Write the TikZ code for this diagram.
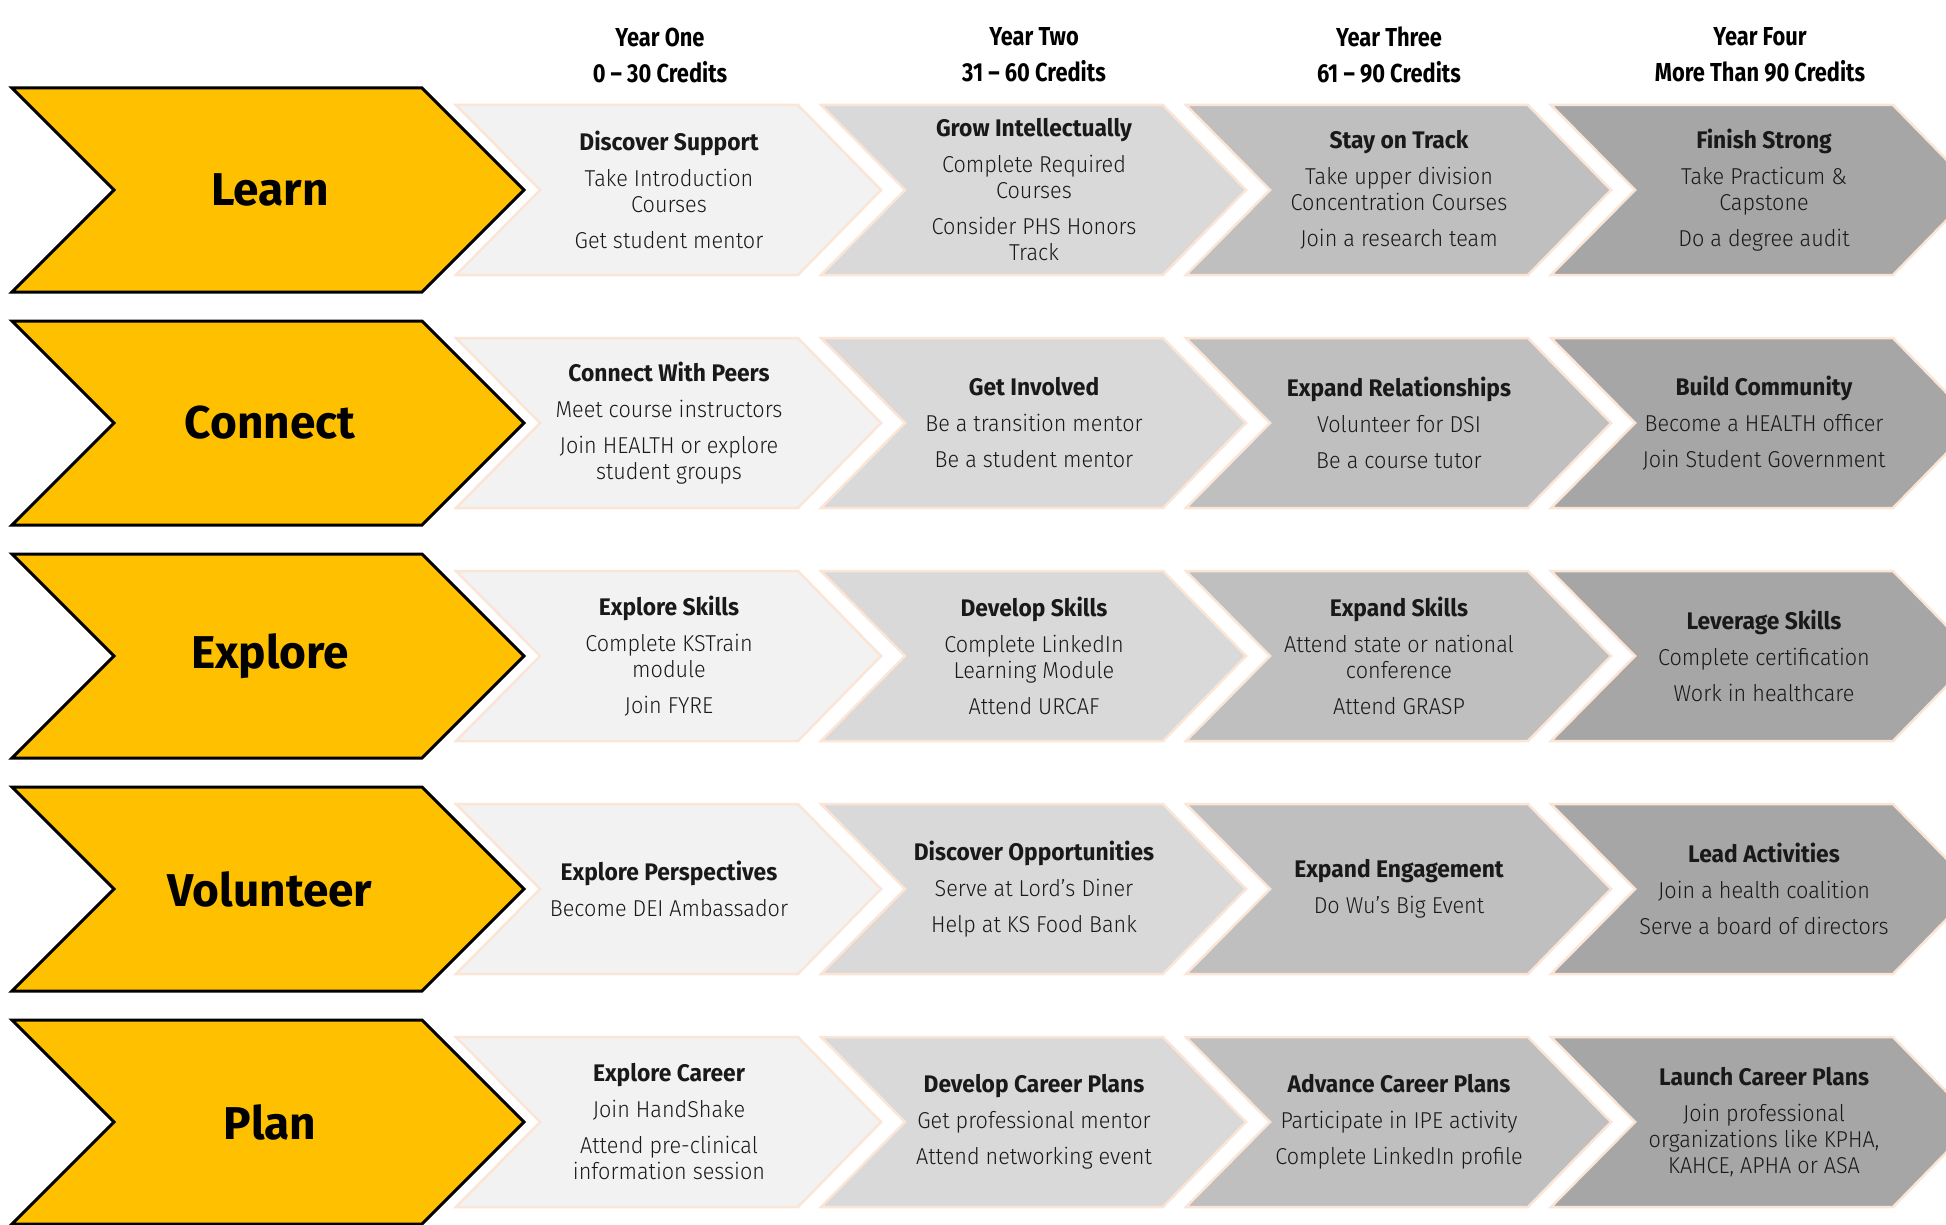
\documentclass[tikz,border=0pt]{standalone}
\usepackage{fontspec}
\setmainfont{Fira Sans}[FakeStretch=0.84]
\newfontfamily\thinfont{Fira Sans Light}[FakeStretch=0.94]
\newfontfamily\titlefont{Fira Sans}[FakeStretch=0.95]
\newfontfamily\labelfont{Fira Sans}
\usetikzlibrary{positioning}

\definecolor{gold}{HTML}{FFC000}
\definecolor{peach}{HTML}{FBE5D6}
\definecolor{shadeA}{HTML}{F2F2F2}
\definecolor{shadeB}{HTML}{D9D9D9}
\definecolor{shadeC}{HTML}{BFBFBF}
\definecolor{shadeD}{HTML}{A6A6A6}

\def\gap{10pt}
\newcommand{\ttl}[1]{{\titlefont\bfseries\fontsize{24}{26}\selectfont #1}\\[\gap]}

\tikzset{
  phase/.style={fill=gold, draw=black, line width=3pt, line join=miter},
  stage/.style={draw=peach, line width=2.5pt, line join=miter},
  phaselabel/.style={font=\labelfont\bfseries\fontsize{46}{50}\selectfont},
  stagetext/.style={align=center, text=black!90, font=\thinfont\fontsize{23}{26}\selectfont},
  yearlabel/.style={align=center, font=\fontsize{26}{36}\selectfont\bfseries}
}

\begin{document}
\begin{tikzpicture}[x=1pt,y=-1pt]
  \def\pitch{365}
  \def\rowgap{233}
  \useasboundingbox (0,0) rectangle (1946,1225);
  \clip (0,0) rectangle (1946,1225);

  % years
  \foreach \c/\x/\yr in {0/660/{Year One\\0 -- 30 Credits},
                          1/1034/{Year Two\\31 -- 60 Credits},
                          2/1389/{Year Three\\61 -- 90 Credits},
                          3/1760/{Year Four\\More Than 90 Credits}}
    \node[yearlabel] (year\c) at (\x,55) {\yr};

  % phases and stages
  \foreach \r/\name in {0/Learn,1/Connect,2/Explore,3/Volunteer,4/Plan} {
    \pgfmathsetmacro\yc{190+\r*\rowgap}
    \draw[phase] (12,\yc-102) -- (422,\yc-102) -- (524,\yc) -- (422,\yc+102)
      -- (12,\yc+102) -- (114,\yc) -- cycle;
    \node[phaselabel] (\name) at (270,\yc) {\name};
    \foreach \c/\shade in {0/shadeA,1/shadeB,2/shadeC,3/shadeD} {
      \pgfmathsetmacro\xl{456+\c*\pitch}
      \draw[stage, fill=\shade] (\xl,\yc-85) -- (\xl+342,\yc-85) -- (\xl+425,\yc)
        -- (\xl+342,\yc+85) -- (\xl,\yc+85) -- (\xl+84,\yc) -- cycle;
    }
  }

  % stage texts
  \foreach \r/\c/\txt in {
    0/0/{\ttl{Discover Support}Take Introduction\\Courses\\[\gap]Get student mentor},
    0/1/{\ttl{Grow Intellectually}Complete Required\\Courses\\[\gap]Consider PHS Honors\\Track},
    0/2/{\ttl{Stay on Track}Take upper division\\Concentration Courses\\[\gap]Join a research team},
    0/3/{\ttl{Finish Strong}Take Practicum \&\\Capstone\\[\gap]Do a degree audit},
    1/0/{\ttl{Connect With Peers}Meet course instructors\\[\gap]Join HEALTH or explore\\student groups},
    1/1/{\ttl{Get Involved}Be a transition mentor\\[\gap]Be a student mentor},
    1/2/{\ttl{Expand Relationships}Volunteer for DSI\\[\gap]Be a course tutor},
    1/3/{\ttl{Build Community}Become a HEALTH officer\\[\gap]Join Student Government},
    2/0/{\ttl{Explore Skills}Complete KSTrain\\module\\[\gap]Join FYRE},
    2/1/{\ttl{Develop Skills}Complete LinkedIn\\Learning Module\\[\gap]Attend URCAF},
    2/2/{\ttl{Expand Skills}Attend state or national\\conference\\[\gap]Attend GRASP},
    2/3/{\ttl{Leverage Skills}Complete certification\\[\gap]Work in healthcare},
    3/0/{\ttl{Explore Perspectives}Become DEI Ambassador},
    3/1/{\ttl{Discover Opportunities}Serve at Lord’s Diner\\[\gap]Help at KS Food Bank},
    3/2/{\ttl{Expand Engagement}Do Wu’s Big Event},
    3/3/{\ttl{Lead Activities}Join a health coalition\\[\gap]Serve a board of directors},
    4/0/{\ttl{Explore Career}Join HandShake\\[\gap]Attend pre-clinical\\information session},
    4/1/{\ttl{Develop Career Plans}Get professional mentor\\[\gap]Attend networking event},
    4/2/{\ttl{Advance Career Plans}Participate in IPE activity\\[\gap]Complete LinkedIn profile},
    4/3/{\ttl{Launch Career Plans}Join professional\\organizations like KPHA,\\KAHCE, APHA or ASA}}
    \node[stagetext] (stage\r\c) at (669+\c*\pitch,190+\r*\rowgap) {\txt};
\end{tikzpicture}
\end{document}
